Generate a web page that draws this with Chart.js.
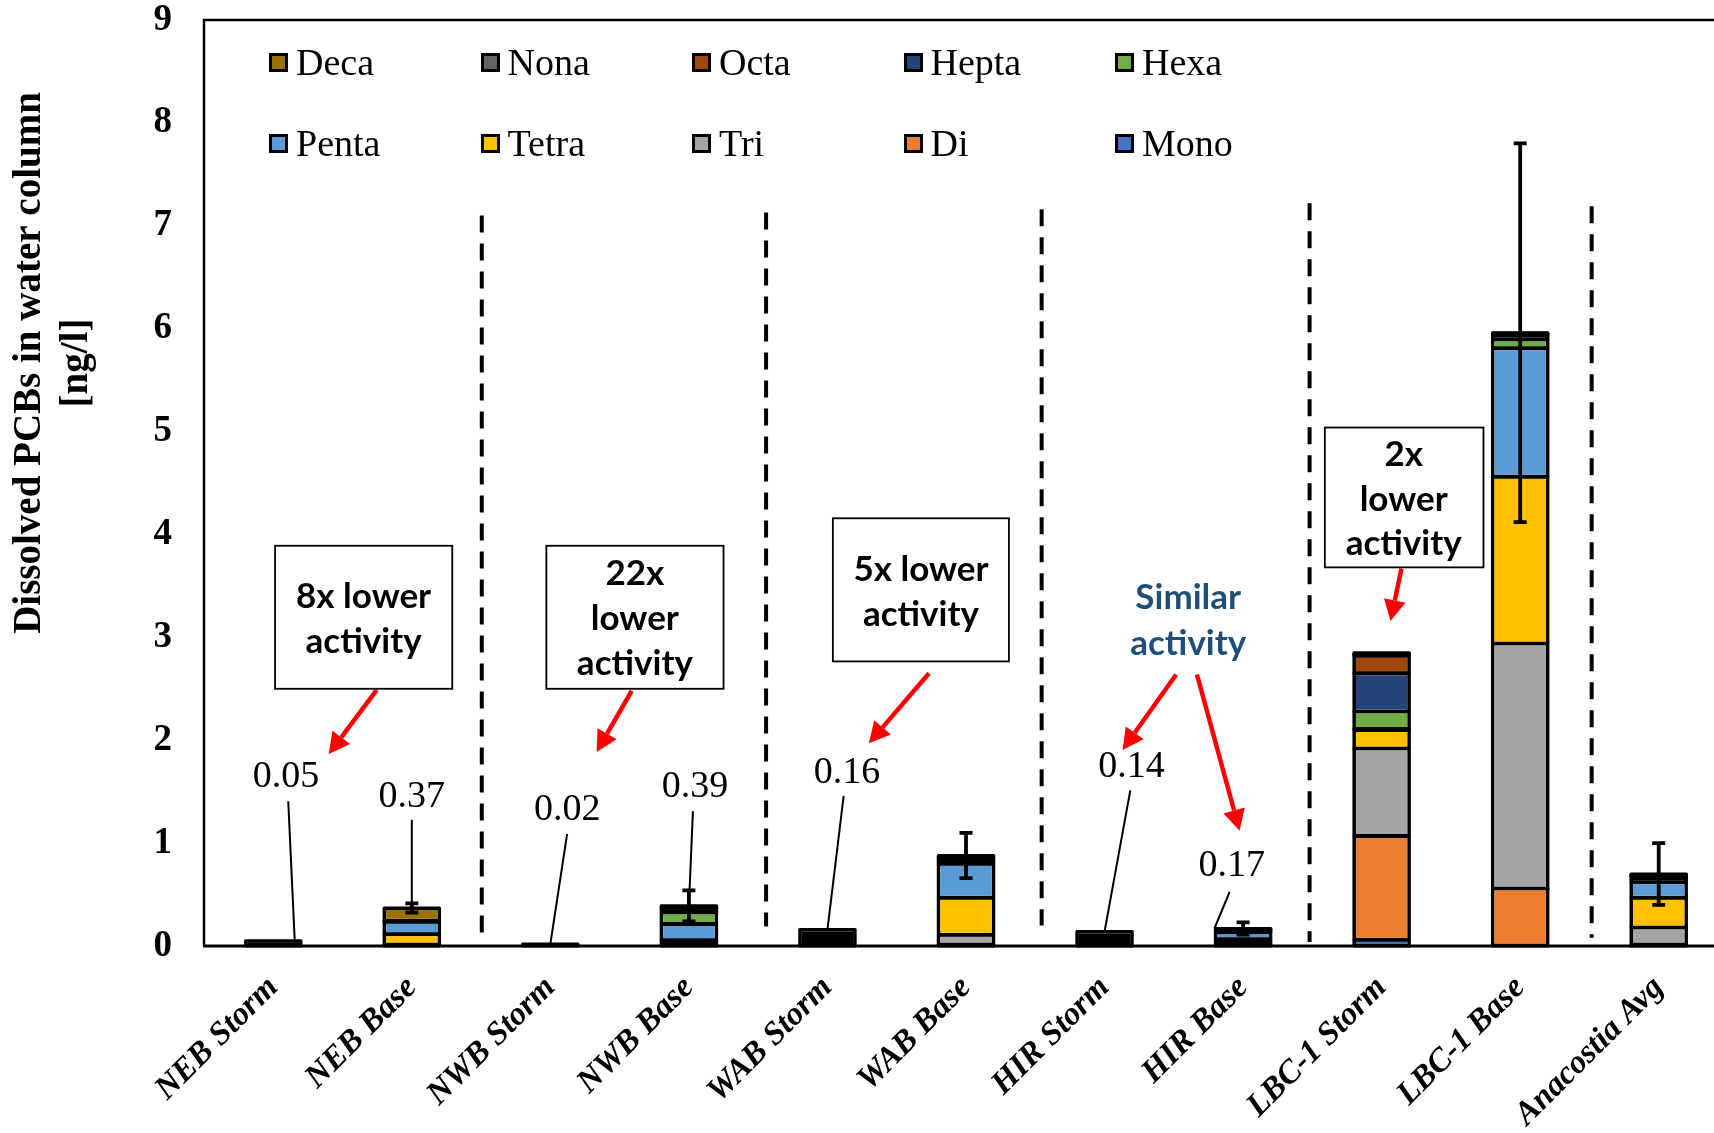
<!DOCTYPE html>
<html>
<head>
<meta charset="utf-8">
<title>Dissolved PCBs in water column</title>
<script src="https://cdn.jsdelivr.net/npm/chart.js@4.4.1/dist/chart.umd.min.js"></script>
<style>
  html, body { margin: 0; padding: 0; background: #fff; overflow: hidden; width: 1714px; height: 1133px; }
  #wrap { position: absolute; left: 0; top: 0; width: 1740px; height: 1133px; }
  #legend { position: absolute; left: 0; top: 0; width: 0; height: 0; }
  .li { position: absolute; height: 40px; display: flex; align-items: center;
        font-family: "Liberation Serif", "Times New Roman", serif; font-size: 38px; line-height: 1;
        color: #000; white-space: nowrap; }
  .sw { width: 19px; height: 19px; box-sizing: border-box; border: 3px solid #000; margin-right: 8px; }
</style>
</head>
<body>
<div id="wrap">
  <canvas id="chart"></canvas>
  <div id="legend"></div>
</div>
<script>
// Sampling sites (storm event vs. base flow)
const categories = ['NEB Storm', 'NEB Base', 'NWB Storm', 'NWB Base', 'WAB Storm', 'WAB Base',
                    'HIR Storm', 'HIR Base', 'LBC-1 Storm', 'LBC-1 Base', 'Anacostia Avg'];

// PCB homologue groups, stacked bottom to top
const seriesNames = ['Mono', 'Di', 'Tri', 'Tetra', 'Penta', 'Hexa', 'Hepta', 'Octa', 'Nona', 'Deca'];

// Dissolved concentrations per homologue group [ng/l]
const mono  = [null, 0,     null, 0,     null, 0.005, null, 0.005, 0.06,  0.005, 0.005];
const di    = [null, 0.005, null, 0.005, null, 0.01,  null, 0.01,  1.01,  0.555, 0.01];
const tri   = [null, 0.01,  null, 0.015, null, 0.095, null, 0.02,  0.85,  2.38,  0.165];
const tetra = [null, 0.10,  null, 0.035, null, 0.36,  null, 0.03,  0.18,  1.62,  0.29];
const penta = [null, 0.12,  null, 0.16,  null, 0.33,  null, 0.065, 0.01,  1.25,  0.15];
const hexa  = [null, 0.005, null, 0.11,  null, 0.03,  null, 0.015, 0.17,  0.085, 0.04];
const hepta = [null, 0.005, null, 0.03,  null, 0.025, null, 0.01,  0.37,  0.04,  0.02];
const octa  = [null, 0,     null, 0.015, null, 0.01,  null, 0.005, 0.17,  0.015, 0.01];
const nona  = [null, 0,     null, 0.01,  null, 0.005, null, 0.005, 0.015, 0.005, 0.005];
const deca  = [null, 0.125, null, 0.01,  null, 0.01,  null, 0.005, 0.015, 0.005, 0.005];

// Storm samples reported as a single total [ng/l]
const stormTotal = [0.05, null, 0.02, null, 0.16, null, 0.14, null, null, null, null];

// Standard deviation of the total [ng/l]
const errorBars = [null, 0.045, null, 0.15, null, 0.22, null, 0.06, null, 1.84, 0.30];

// Value axis ticks [ng/l]
const yTicks = [0, 1, 2, 3, 4, 5, 6, 7, 8, 9];

const seriesValues = [mono, di, tri, tetra, penta, hexa, hepta, octa, nona, deca];
const seriesColors = ['#4472C4', '#ED7D31', '#A5A5A5', '#FFC000', '#5B9BD5',
                      '#70AD47', '#264478', '#9E480E', '#636363', '#997300'];

// Sites whose total is written next to the bar
const labelledSites = [0, 1, 2, 3, 4, 6, 7];
// Placement of those labels (category units, ng/l) and their leader lines
const labelPlacement = {
  0: { lx: 0.092, ly: 1.673, sx: 0.108, sy: 1.407, ex: 0.155 },
  1: { lx: 1.0,   ly: 1.481, sx: 1.0,   sy: 1.227, ex: 1.0 },
  2: { lx: 2.121, ly: 1.354, sx: 2.121, sy: 1.089, ex: 2.0 },
  3: { lx: 3.044, ly: 1.577, sx: 3.029, sy: 1.311, ex: 3.0 },
  4: { lx: 4.141, ly: 1.715, sx: 4.117, sy: 1.460, ex: 4.0 },
  6: { lx: 6.194, ly: 1.768, sx: 6.186, sy: 1.513, ex: 6.0 },
  7: { lx: 6.919, ly: 0.802, sx: 6.903, sy: 0.526, ex: 6.793 }
};

// Site group separators (category units, ng/l)
const separators = [
  { x: 1.505, top: 7.10, bottom: 0.04 },
  { x: 3.557, top: 7.13, bottom: 0.19 },
  { x: 5.546, top: 7.16, bottom: 0.20 },
  { x: 7.48,  top: 7.22, bottom: 0.04 },
  { x: 9.516, top: 7.19, bottom: 0.08 }
];

// Callouts
const callouts = [
  { box: [0.013, 3.89, 1.292, 2.50], cx: 0.652, lines: ['8x lower', 'activity'], ly: [3.39, 2.96], color: '#000' },
  { box: [1.971, 3.89, 3.250, 2.50], cx: 2.61, lines: ['22x', 'lower', 'activity'], ly: [3.616, 3.18, 2.745], color: '#000' },
  { box: [4.039, 4.157, 5.310, 2.766], cx: 4.675, lines: ['5x lower', 'activity'], ly: [3.658, 3.223], color: '#000' },
  { box: null, cx: 6.604, lines: ['Similar', 'activity'], ly: [3.382, 2.936], color: '#1F4E79' },
  { box: [7.590, 5.039, 8.735, 3.680], cx: 8.159, lines: ['2x', 'lower', 'activity'], ly: [4.773, 4.338, 3.913], color: '#000' }
];
const arrows = [
  [0.747, 2.49, 0.400, 1.865],
  [2.587, 2.48, 2.334, 1.886],
  [4.733, 2.651, 4.299, 1.970],
  [6.517, 2.639, 6.130, 1.906],
  [6.667, 2.639, 6.975, 1.120],
  [8.143, 3.669, 8.064, 3.159]
];

function siteTotal(i) {
  let s = stormTotal[i] || 0;
  seriesValues.forEach(arr => { s += arr[i] || 0; });
  return s;
}

const barStyle = {
  borderColor: '#000',
  borderWidth: 2,
  borderSkipped: false,
  barPercentage: 1,
  categoryPercentage: 0.40,
  stack: 'pcb'
};

const datasets = [
  Object.assign({ label: 'Total', data: stormTotal, backgroundColor: '#000' }, barStyle)
].concat(seriesNames.map((name, k) =>
  Object.assign({ label: name, data: seriesValues[k], backgroundColor: seriesColors[k] }, barStyle)
));

function drawArrow(ctx, x0, y0, x1, y1) {
  const ang = Math.atan2(y1 - y0, x1 - x0);
  const L = 21, W = 11;
  const bx = x1 - L * Math.cos(ang), by = y1 - L * Math.sin(ang);
  ctx.strokeStyle = '#FF0000';
  ctx.fillStyle = '#FF0000';
  ctx.lineWidth = 4.5;
  ctx.lineCap = 'butt';
  ctx.beginPath(); ctx.moveTo(x0, y0); ctx.lineTo(bx, by); ctx.stroke();
  ctx.beginPath();
  ctx.moveTo(x1, y1);
  ctx.lineTo(bx + W * Math.sin(ang), by - W * Math.cos(ang));
  ctx.lineTo(bx - W * Math.sin(ang), by + W * Math.cos(ang));
  ctx.closePath(); ctx.fill();
}

const decorations = {
  id: 'decorations',
  beforeDatasetsDraw(chart) {
    const { ctx, scales: { x, y } } = chart;
    ctx.save();
    ctx.strokeStyle = '#000';
    ctx.lineWidth = 4;
    ctx.setLineDash([17, 11]);
    separators.forEach(s => {
      const px = x.getPixelForValue(s.x);
      ctx.beginPath();
      ctx.moveTo(px, y.getPixelForValue(s.top));
      ctx.lineTo(px, y.getPixelForValue(s.bottom));
      ctx.stroke();
    });
    ctx.restore();
  },
  afterDatasetsDraw(chart) {
    const { ctx, chartArea: a, scales: { x, y } } = chart;
    const X = v => x.getPixelForValue(v), Y = v => y.getPixelForValue(v);
    ctx.save();

    // centred outline on every bar segment, taken from the drawn bar elements
    ctx.strokeStyle = '#000';
    ctx.lineWidth = 3;
    ctx.lineJoin = 'round';
    chart.data.datasets.forEach((d, di) => {
      chart.getDatasetMeta(di).data.forEach((el, i) => {
        const v = d.data[i];
        if (v == null || v <= 0) return;
        const top = Math.min(el.y, el.base), h = Math.abs(el.base - el.y);
        ctx.strokeRect(el.x - el.width / 2, top, el.width, h);
      });
    });

    // plot frame
    ctx.lineJoin = 'miter';
    ctx.lineWidth = 2.5;
    ctx.beginPath();
    ctx.moveTo(a.left, a.bottom);
    ctx.lineTo(a.left, a.top);
    ctx.lineTo(a.right + 30, a.top);
    ctx.stroke();
    ctx.lineWidth = 3;
    ctx.beginPath();
    ctx.moveTo(a.left - 1, a.bottom);
    ctx.lineTo(a.right + 30, a.bottom);
    ctx.stroke();

    // error bars
    ctx.lineWidth = 3.8;
    errorBars.forEach((e, i) => {
      if (e == null) return;
      const t = siteTotal(i);
      const px = X(i), top = Y(t + e), bot = Y(t - e);
      ctx.beginPath();
      ctx.moveTo(px, top); ctx.lineTo(px, bot);
      ctx.moveTo(px - 6.5, top); ctx.lineTo(px + 6.5, top);
      ctx.moveTo(px - 6.5, bot); ctx.lineTo(px + 6.5, bot);
      ctx.stroke();
    });

    // value labels with leader lines
    ctx.lineWidth = 2;
    ctx.fillStyle = '#000';
    ctx.font = '38px "Liberation Serif", serif';
    ctx.textAlign = 'center';
    ctx.textBaseline = 'alphabetic';
    labelledSites.forEach(i => {
      const p = labelPlacement[i];
      const t = siteTotal(i);
      ctx.beginPath();
      ctx.moveTo(X(p.sx), Y(p.sy));
      ctx.lineTo(X(p.ex), Y(t));
      ctx.stroke();
      ctx.fillText(t.toFixed(2), X(p.lx), Y(p.ly) + 13);
    });

    // callout boxes and text
    callouts.forEach(c => {
      if (c.box) {
        const [bx0, by0, bx1, by1] = c.box;
        ctx.fillStyle = '#fff';
        ctx.fillRect(X(bx0), Y(by0), X(bx1) - X(bx0), Y(by1) - Y(by0));
        ctx.strokeStyle = '#000';
        ctx.lineWidth = 1.8;
        ctx.strokeRect(X(bx0), Y(by0), X(bx1) - X(bx0), Y(by1) - Y(by0));
      }
      ctx.fillStyle = c.color;
      ctx.font = 'bold 35px Lato, "Open Sans", sans-serif';
      ctx.textAlign = 'center';
      ctx.textBaseline = 'middle';
      c.lines.forEach((line, k) => ctx.fillText(line, X(c.cx), Y(c.ly[k])));
    });

    // red arrows
    arrows.forEach(r => drawArrow(ctx, X(r[0]), Y(r[1]), X(r[2]), Y(r[3])));

    // value axis title
    ctx.fillStyle = '#000';
    ctx.font = 'bold 39px "Liberation Serif", serif';
    ctx.textAlign = 'center';
    ctx.textBaseline = 'middle';
    ctx.translate(0, 363);
    ctx.rotate(-Math.PI / 2);
    ctx.fillText('Dissolved PCBs in water column', 0, 30);
    ctx.fillText('[ng/l]', 0, 77);
    ctx.restore();
  }
};

const chart = new Chart(document.getElementById('chart'), {
  type: 'bar',
  data: { labels: categories, datasets: datasets },
  options: {
    responsive: true,
    maintainAspectRatio: false,
    animation: false,
    layout: { padding: { left: 104, top: 20, right: 12, bottom: 0 } },
    plugins: { legend: { display: false }, tooltip: { enabled: false } },
    scales: {
      x: {
        stacked: true,
        offset: true,
        grid: { display: false, drawTicks: false },
        border: { display: false },
        ticks: {
          autoSkip: false,
          maxRotation: 45,
          minRotation: 45,
          padding: 25,
          color: '#000',
          font: { family: '"Liberation Serif", serif', size: 33, weight: 'bold', style: 'italic', lineHeight: 1 }
        },
        afterFit(scale) { scale.height = 187; scale.paddingLeft = 0; scale.paddingRight = 0; }
      },
      y: {
        stacked: true,
        min: 0,
        max: 9,
        grid: { display: false, drawTicks: false },
        border: { display: false },
        afterBuildTicks(scale) { scale.ticks = yTicks.map(v => ({ value: v })); },
        ticks: {
          padding: 32,
          color: '#000',
          font: { family: '"Liberation Serif", serif', size: 37, weight: 'bold', lineHeight: 1 }
        },
        afterFit(scale) { scale.width = 100; scale.paddingTop = 0; scale.paddingBottom = 0; }
      }
    }
  },
  plugins: [decorations]
});

// Legend in two rows, listed top homologue first
(function buildLegend() {
  const host = document.getElementById('legend');
  const items = chart.data.datasets.filter(d => d.label !== 'Total').slice().reverse();
  items.forEach((d, k) => {
    const row = Math.floor(k / 5), col = k % 5;
    const el = document.createElement('div');
    el.className = 'li';
    el.style.left = (269 + col * 211.5) + 'px';
    el.style.top = (row === 0 ? 62 : 143) - 20 + 'px';
    const sw = document.createElement('span');
    sw.className = 'sw';
    sw.style.background = d.backgroundColor;
    el.appendChild(sw);
    el.appendChild(document.createTextNode(d.label));
    host.appendChild(el);
  });
})();
</script>
</body>
</html>
